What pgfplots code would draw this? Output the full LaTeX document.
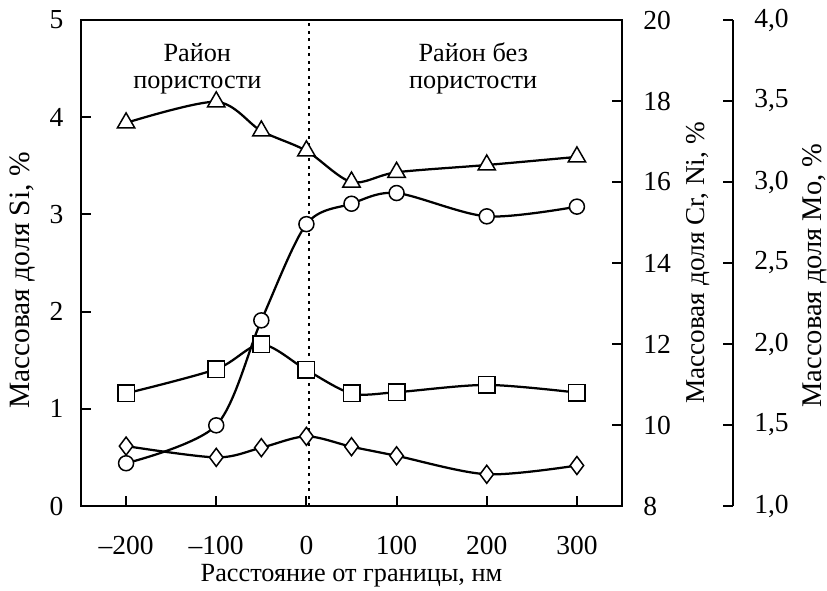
\documentclass[border=0pt]{standalone}
\usepackage{fontspec}
\setmainfont{Liberation Serif}
\usepackage{pgfplots}
\pgfplotsset{compat=1.18}

\pgfplotsset{common/.style={
  scale only axis, width=216.4pt, height=194.4pt,
  at={(0,0)}, anchor=south west,
  xmin=-250, xmax=350,
  tick align=inside, major tick length=4pt,
  every tick/.style={black, line width=0.8pt},
  axis line style={line width=0.8pt},
  tick label style={font=\fontsize{11}{13}\selectfont},
  label style={font=\fontsize{11}{13}\selectfont},
  /pgf/number format/assume math mode=true,
  clip=false,
}}
\tikzset{curve/.style={smooth, black, line width=0.9pt, mark options={fill=white, draw=black, line width=0.6pt, solid}}}

\begin{document}
\begin{tikzpicture}
\useasboundingbox (-32.4pt,-33.6pt) rectangle (298.4pt,202.4pt);

% Si axis (left) with box
\begin{axis}[common,
  ymin=0, ymax=5, ytick={0,1,2,3,4,5},
  xtick={-200,-100,0,100,200,300},
  xticklabels={\textendash200,\textendash100,0,100,200,300},
  xtick pos=left, ytick pos=left,
  yticklabel style={xshift=-3.5pt},
  xticklabel style={yshift=-8.5pt},
  xlabel={Расстояние от границы, нм},
  ylabel={Массовая доля Si, \%},
  xlabel style={font=\fontsize{10.5}{12}\selectfont, at={(axis description cs:0.5,0)}, anchor=center, yshift=-28pt},
  ylabel style={font=\fontsize{11.8}{13}\selectfont, at={(axis description cs:0,0.5)}, anchor=center, yshift=23.2pt, xshift=-7pt},
]
\draw[black, line width=0.9pt, dash pattern=on 1.2pt off 1.8pt] (axis cs:3,0) -- (axis cs:3,5);
\node[align=center, font=\fontsize{10.5}{11}\selectfont] at (axis cs:-121,4.50) {Район\\пористости};
\node[align=center, font=\fontsize{10.5}{11}\selectfont] at (axis cs:185,4.50) {Район без\\пористости};
% Si (circles)
\addplot[curve, mark=*, mark size=3pt] coordinates {
(-200,0.44) (-100,0.83) (-50,1.91) (0,2.90) (50,3.11) (100,3.22) (200,2.98) (300,3.08)};
\end{axis}

% Cr, Ni axis (right of box)
\begin{axis}[common,
  axis y line*=right, axis x line=none,
  ymin=8, ymax=20, ytick={8,10,12,14,16,18,20},
  yticklabel style={xshift=5pt},
  ylabel={Массовая доля Cr, Ni, \%},
  ylabel style={font=\fontsize{10.9}{13}\selectfont, at={(axis description cs:1,0.5)}, anchor=center, yshift=-30.4pt},
]
% Cr (triangles)
\addplot[curve, mark=triangle*, mark size=4pt] coordinates {
(-200,17.46) (-100,17.98) (-50,17.26) (0,16.77) (50,16.00) (100,16.24) (200,16.42) (300,16.62)};
% Ni (squares)
\addplot[curve, mark=square*, mark size=3.3pt] coordinates {
(-200,10.78) (-100,11.38) (-50,11.99) (0,11.36) (50,10.78) (100,10.81) (200,10.99) (300,10.80)};
\end{axis}

% Mo axis (offset)
\begin{axis}[common,
  axis y line*=right, axis x line=none,
  ymin=1, ymax=4, ytick={1,1.5,2,2.5,3,3.5,4},
  yticklabels={{1,0},{1,5},{2,0},{2,5},{3,0},{3,5},{4,0}},
  every outer y axis line/.append style={xshift=44.4pt},
  every y tick/.append style={xshift=44.4pt},
  yticklabel style={xshift=49.4pt},
  ylabel={Массовая доля Mo, \%},
  ylabel style={font=\fontsize{11.4}{13}\selectfont, at={(axis description cs:1,0.5)}, anchor=center, yshift=-77.2pt, xshift=-5pt},
]
% Mo (diamonds)
\addplot[curve, mark=diamond*, mark size=3.6pt] coordinates {
(-200,1.37) (-100,1.30) (-50,1.36) (0,1.43) (50,1.366) (100,1.31) (200,1.196) (300,1.25)};
\end{axis}
\end{tikzpicture}
\end{document}
